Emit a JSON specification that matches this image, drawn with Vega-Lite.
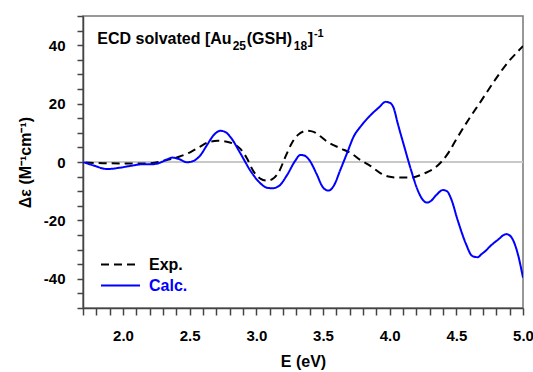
{
  "$schema": "https://vega.github.io/schema/vega-lite/v6.json",
  "width": 440,
  "height": 292,
  "autosize": {"type": "none"},
  "padding": {"left": 83, "top": 16, "right": 10, "bottom": 64},
  "background": "white",
  "config": {
    "font": "Liberation Sans",
    "view": {"stroke": "#777777", "strokeWidth": 1.5}
  },
  "datasets": {
    "spectra": [
      {"E": 1.72, "v": -0.2, "s": "Exp."},
      {"E": 1.85, "v": -0.4, "s": "Exp."},
      {"E": 2.0, "v": -0.5, "s": "Exp."},
      {"E": 2.18, "v": -0.5, "s": "Exp."},
      {"E": 2.33, "v": 0.7, "s": "Exp."},
      {"E": 2.42, "v": 1.8, "s": "Exp."},
      {"E": 2.51, "v": 3.5, "s": "Exp."},
      {"E": 2.57, "v": 5.0, "s": "Exp."},
      {"E": 2.63, "v": 6.6, "s": "Exp."},
      {"E": 2.71, "v": 7.3, "s": "Exp."},
      {"E": 2.77, "v": 7.0, "s": "Exp."},
      {"E": 2.83, "v": 6.2, "s": "Exp."},
      {"E": 2.88, "v": 4.5, "s": "Exp."},
      {"E": 2.93, "v": 1.2, "s": "Exp."},
      {"E": 2.98, "v": -3.3, "s": "Exp."},
      {"E": 3.03, "v": -5.7, "s": "Exp."},
      {"E": 3.08, "v": -6.4, "s": "Exp."},
      {"E": 3.12, "v": -5.9, "s": "Exp."},
      {"E": 3.17, "v": -3.3, "s": "Exp."},
      {"E": 3.22, "v": 2.0, "s": "Exp."},
      {"E": 3.27, "v": 6.8, "s": "Exp."},
      {"E": 3.31, "v": 9.2, "s": "Exp."},
      {"E": 3.38, "v": 10.7, "s": "Exp."},
      {"E": 3.43, "v": 10.3, "s": "Exp."},
      {"E": 3.48, "v": 8.8, "s": "Exp."},
      {"E": 3.53, "v": 7.0, "s": "Exp."},
      {"E": 3.63, "v": 4.7, "s": "Exp."},
      {"E": 3.71, "v": 3.0, "s": "Exp."},
      {"E": 3.78, "v": 0.7, "s": "Exp."},
      {"E": 3.86, "v": -1.5, "s": "Exp."},
      {"E": 3.93, "v": -3.8, "s": "Exp."},
      {"E": 3.99, "v": -5.0, "s": "Exp."},
      {"E": 4.05, "v": -5.3, "s": "Exp."},
      {"E": 4.16, "v": -5.3, "s": "Exp."},
      {"E": 4.26, "v": -3.9, "s": "Exp."},
      {"E": 4.34, "v": -2.0, "s": "Exp."},
      {"E": 4.4, "v": 0.7, "s": "Exp."},
      {"E": 4.45, "v": 3.8, "s": "Exp."},
      {"E": 4.49, "v": 7.0, "s": "Exp."},
      {"E": 4.59, "v": 14.4, "s": "Exp."},
      {"E": 4.69, "v": 21.2, "s": "Exp."},
      {"E": 4.79, "v": 28.1, "s": "Exp."},
      {"E": 4.89, "v": 34.3, "s": "Exp."},
      {"E": 4.96, "v": 37.8, "s": "Exp."},
      {"E": 5.0, "v": 39.7, "s": "Exp."},
      {"E": 1.7, "v": 0.0, "s": "Calc."},
      {"E": 1.78, "v": -1.2, "s": "Calc."},
      {"E": 1.88, "v": -2.4, "s": "Calc."},
      {"E": 1.97, "v": -2.0, "s": "Calc."},
      {"E": 2.06, "v": -1.3, "s": "Calc."},
      {"E": 2.14, "v": -0.8, "s": "Calc."},
      {"E": 2.21, "v": -0.8, "s": "Calc."},
      {"E": 2.28, "v": -0.2, "s": "Calc."},
      {"E": 2.33, "v": 0.9, "s": "Calc."},
      {"E": 2.37, "v": 1.5, "s": "Calc."},
      {"E": 2.42, "v": 1.0, "s": "Calc."},
      {"E": 2.48, "v": -0.1, "s": "Calc."},
      {"E": 2.53, "v": 0.4, "s": "Calc."},
      {"E": 2.58, "v": 2.3, "s": "Calc."},
      {"E": 2.63, "v": 5.8, "s": "Calc."},
      {"E": 2.68, "v": 9.2, "s": "Calc."},
      {"E": 2.73, "v": 10.7, "s": "Calc."},
      {"E": 2.77, "v": 10.2, "s": "Calc."},
      {"E": 2.81, "v": 8.3, "s": "Calc."},
      {"E": 2.88, "v": 3.0, "s": "Calc."},
      {"E": 2.96, "v": -3.3, "s": "Calc."},
      {"E": 3.03, "v": -7.3, "s": "Calc."},
      {"E": 3.08, "v": -8.8, "s": "Calc."},
      {"E": 3.12, "v": -9.0, "s": "Calc."},
      {"E": 3.17, "v": -8.2, "s": "Calc."},
      {"E": 3.23, "v": -4.5, "s": "Calc."},
      {"E": 3.29, "v": 0.3, "s": "Calc."},
      {"E": 3.33, "v": 2.4, "s": "Calc."},
      {"E": 3.36, "v": 2.2, "s": "Calc."},
      {"E": 3.4, "v": 0.5, "s": "Calc."},
      {"E": 3.45, "v": -3.9, "s": "Calc."},
      {"E": 3.5, "v": -8.7, "s": "Calc."},
      {"E": 3.54, "v": -9.8, "s": "Calc."},
      {"E": 3.58, "v": -8.2, "s": "Calc."},
      {"E": 3.63, "v": -2.7, "s": "Calc."},
      {"E": 3.68, "v": 3.0, "s": "Calc."},
      {"E": 3.73, "v": 8.7, "s": "Calc."},
      {"E": 3.79, "v": 12.6, "s": "Calc."},
      {"E": 3.86, "v": 16.2, "s": "Calc."},
      {"E": 3.92, "v": 18.7, "s": "Calc."},
      {"E": 3.97, "v": 20.6, "s": "Calc."},
      {"E": 4.0, "v": 20.3, "s": "Calc."},
      {"E": 4.03, "v": 18.5, "s": "Calc."},
      {"E": 4.06, "v": 13.3, "s": "Calc."},
      {"E": 4.11, "v": 5.2, "s": "Calc."},
      {"E": 4.16, "v": -2.7, "s": "Calc."},
      {"E": 4.21, "v": -9.6, "s": "Calc."},
      {"E": 4.24, "v": -12.4, "s": "Calc."},
      {"E": 4.28, "v": -13.9, "s": "Calc."},
      {"E": 4.31, "v": -13.3, "s": "Calc."},
      {"E": 4.35, "v": -11.3, "s": "Calc."},
      {"E": 4.4, "v": -9.6, "s": "Calc."},
      {"E": 4.43, "v": -10.0, "s": "Calc."},
      {"E": 4.46, "v": -12.5, "s": "Calc."},
      {"E": 4.51, "v": -19.9, "s": "Calc."},
      {"E": 4.57, "v": -27.8, "s": "Calc."},
      {"E": 4.62, "v": -32.2, "s": "Calc."},
      {"E": 4.66, "v": -32.6, "s": "Calc."},
      {"E": 4.69, "v": -31.5, "s": "Calc."},
      {"E": 4.72, "v": -30.4, "s": "Calc."},
      {"E": 4.75, "v": -29.0, "s": "Calc."},
      {"E": 4.81, "v": -26.7, "s": "Calc."},
      {"E": 4.875, "v": -24.7, "s": "Calc."},
      {"E": 4.91, "v": -25.6, "s": "Calc."},
      {"E": 4.96, "v": -31.3, "s": "Calc."},
      {"E": 5.0, "v": -39.6, "s": "Calc."}
    ]
  },
  "layer": [
    {
      "data": {"values": [{}]},
      "mark": {"type": "rule", "color": "#c8c8c8", "strokeWidth": 2},
      "encoding": {
        "y": {"datum": 0, "type": "quantitative"}
      }
    },
    {
      "data": {"name": "spectra"},
      "mark": {"type": "line", "strokeWidth": 2, "interpolate": "monotone", "clip": true},
      "encoding": {
        "x": {
          "field": "E", "type": "quantitative",
          "scale": {"domain": [1.7, 5.0], "nice": false, "zero": false},
          "axis": {
            "title": "E (eV)",
            "values": [1.7,1.8,1.9,2.0,2.1,2.2,2.3,2.4,2.5,2.6,2.7,2.8,2.9,3.0,3.1,3.2,3.3,3.4,3.5,3.6,3.7,3.8,3.9,4.0,4.1,4.2,4.3,4.4,4.5,4.6,4.7,4.8,4.9,5.0],
            "tickCount": 100,
            "labelExpr": "abs(datum.value*2 - round(datum.value*2)) < 0.000001 ? format(datum.value, '.1f') : ''",
            "tickSize": 7,
            "encode": {"ticks": {"update": {"y2": {"signal": "abs(datum.value*2 - round(datum.value*2)) < 0.000001 ? 7 : 4"}}}},
            "labelFlush": false,
            "labelOverlap": false,
            "labelFontSize": 15,
            "labelFontWeight": "bold",
            "labelColor": "#000000",
            "labelPadding": 13,
            "titleFontSize": 16,
            "titleFontWeight": "bold",
            "titleColor": "#000000",
            "titlePadding": 10,
            "domainColor": "#444444",
            "domainWidth": 1.5,
            "tickColor": "#444444",
            "tickWidth": 1.5,
            "grid": false
          }
        },
        "y": {
          "field": "v", "type": "quantitative",
          "scale": {"domain": [-50, 50], "nice": false, "zero": false},
          "axis": {
            "title": "Δε (M⁻¹cm⁻¹)",
            "values": [-50,-45,-40,-35,-30,-25,-20,-15,-10,-5,0,5,10,15,20,25,30,35,40,45,50],
            "tickCount": 100,
            "labelExpr": "datum.value % 20 == 0 ? toString(datum.value) : ''",
            "tickSize": 6,
            "encode": {"ticks": {"update": {"x2": {"signal": "datum.value % 20 == 0 ? -6 : -4"}}}},
            "labelOverlap": false,
            "labelFlush": false,
            "labelFontSize": 15,
            "labelFontWeight": "bold",
            "labelColor": "#000000",
            "labelPadding": 12,
            "titleFontSize": 16,
            "titleFontWeight": "bold",
            "titleColor": "#000000",
            "titlePadding": 10,
            "domainColor": "#444444",
            "domainWidth": 1.5,
            "tickColor": "#444444",
            "tickWidth": 1.5,
            "grid": false
          }
        },
        "color": {
          "field": "s", "type": "nominal",
          "scale": {"domain": ["Exp.", "Calc."], "range": ["#000000", "#0000ff"]},
          "legend": {
            "title": null, "orient": "none", "legendX": 17, "legendY": 238,
            "symbolType": "stroke", "symbolSize": 1521, "symbolStrokeWidth": 2,
            "labelFontSize": 16, "labelFontWeight": "bold", "labelOffset": 8,
            "clipHeight": 21, "rowPadding": 0, "padding": 0,
            "encode": {"labels": {"update": {"fill": {"signal": "datum.label == 'Calc.' ? '#0000ff' : '#000000'"}}}}
          }
        },
        "strokeDash": {
          "field": "s", "type": "nominal",
          "scale": {"domain": ["Exp.", "Calc."], "range": [[8, 5], [1, 0]]},
          "legend": {
            "title": null, "orient": "none", "legendX": 17, "legendY": 238,
            "symbolType": "stroke", "symbolSize": 1521, "symbolStrokeWidth": 2,
            "labelFontSize": 16, "labelFontWeight": "bold", "labelOffset": 8,
            "clipHeight": 21, "rowPadding": 0, "padding": 0,
            "encode": {"labels": {"update": {"fill": {"signal": "datum.label == 'Calc.' ? '#0000ff' : '#000000'"}}}}
          }
        }
      }
    },
    {
      "data": {"values": [{}]},
      "mark": {"type": "text", "text": "ECD solvated [Au", "align": "left", "baseline": "alphabetic", "fontSize": 16, "fontWeight": "bold", "fill": "#000000"},
      "encoding": {
        "x": {"datum": 1.8075, "type": "quantitative"},
        "y": {"datum": 40.3, "type": "quantitative"}
      }
    },
    {
      "data": {"values": [{}]},
      "mark": {"type": "text", "text": "25", "align": "left", "baseline": "alphabetic", "fontSize": 12, "fontWeight": "bold", "fill": "#000000"},
      "encoding": {
        "x": {"datum": 2.8226, "type": "quantitative"},
        "y": {"datum": 38.5, "type": "quantitative"}
      }
    },
    {
      "data": {"values": [{}]},
      "mark": {"type": "text", "text": "(GSH)", "align": "left", "baseline": "alphabetic", "fontSize": 16, "fontWeight": "bold", "fill": "#000000"},
      "encoding": {
        "x": {"datum": 2.9278, "type": "quantitative"},
        "y": {"datum": 40.3, "type": "quantitative"}
      }
    },
    {
      "data": {"values": [{}]},
      "mark": {"type": "text", "text": "18", "align": "left", "baseline": "alphabetic", "fontSize": 12, "fontWeight": "bold", "fill": "#000000"},
      "encoding": {
        "x": {"datum": 3.2812, "type": "quantitative"},
        "y": {"datum": 38.5, "type": "quantitative"}
      }
    },
    {
      "data": {"values": [{}]},
      "mark": {"type": "text", "text": "]", "align": "left", "baseline": "alphabetic", "fontSize": 16, "fontWeight": "bold", "fill": "#000000"},
      "encoding": {
        "x": {"datum": 3.3865, "type": "quantitative"},
        "y": {"datum": 40.3, "type": "quantitative"}
      }
    },
    {
      "data": {"values": [{}]},
      "mark": {"type": "text", "text": "-1", "align": "left", "baseline": "alphabetic", "fontSize": 11, "fontWeight": "bold", "fill": "#000000"},
      "encoding": {
        "x": {"datum": 3.4316, "type": "quantitative"},
        "y": {"datum": 42.8, "type": "quantitative"}
      }
    }
  ]
}
